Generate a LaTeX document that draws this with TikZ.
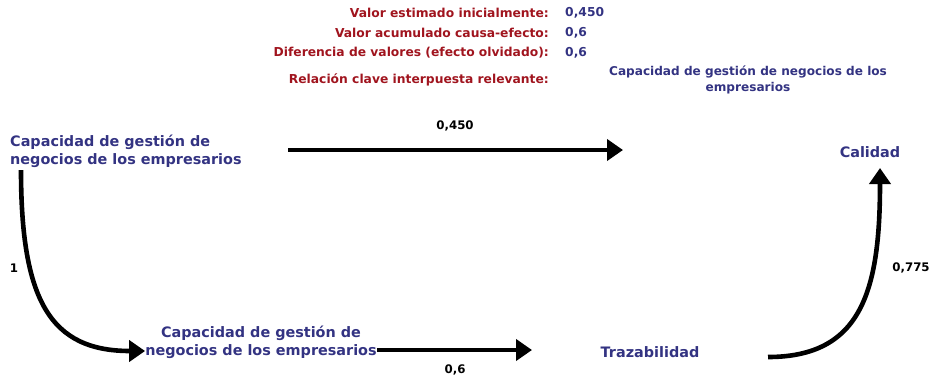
\documentclass[tikz,border=0pt]{standalone}
\usepackage{fontspec}
\setmainfont{DejaVu Sans}
\usetikzlibrary{arrows.meta}
\definecolor{lblred}{RGB}{160,20,30}
\definecolor{nodeblue}{RGB}{51,51,130}
\begin{document}
\begin{tikzpicture}[x=1pt,y=-1pt,
  redlbl/.style={anchor=east,text=lblred,font=\bfseries\fontsize{12.3}{14}\selectfont,inner sep=0pt},
  vallbl/.style={anchor=west,text=nodeblue,font=\bfseries\fontsize{12.3}{14}\selectfont,inner sep=0pt},
  concept/.style={text=nodeblue,font=\bfseries\fontsize{14.4}{18}\selectfont,inner sep=0pt},
  wlbl/.style={text=black,font=\bfseries\fontsize{11.8}{14}\selectfont,inner sep=0pt},
  bigarrow/.style={line width=4.6pt,-{Triangle[length=16pt,width=21pt]}}
]
\useasboundingbox (0,0) rectangle (933,381);
\node[redlbl] (r1) at (549,13) {Valor estimado inicialmente:};
\node[redlbl] (r2) at (549,33) {Valor acumulado causa-efecto:};
\node[redlbl] (r3) at (549,53) {Diferencia de valores (efecto olvidado):};
\node[redlbl] (r4) at (549,80) {Relación clave interpuesta relevante:};
\node[vallbl] (v1) at (565,13) {0,450};
\node[vallbl] (v2) at (565,33) {0,6};
\node[vallbl] (v3) at (565,53) {0,6};
\node[text=nodeblue,font=\bfseries\fontsize{12.1}{16}\selectfont,align=center,inner sep=0pt] (v4) at (748,80) {Capacidad de gestión de negocios de los\\empresarios};

\node[concept,align=left,anchor=west] (cap1) at (10,151) {Capacidad de gestión de\\negocios de los empresarios};
\node[concept] (cal) at (870,152) {Calidad};
\node[concept,align=center] (cap2) at (261,342) {Capacidad de gestión de\\negocios de los empresarios};
\node[concept] (traz) at (650,352) {Trazabilidad};

\coordinate (t1s) at (288,150);
\coordinate (t1e) at (623,150);
\coordinate (c1s) at (21,170);
\coordinate (c2s) at (768,357);
\coordinate (c2e) at (880,168);
\coordinate (b1e) at (532,350);

\draw[bigarrow] (c1s) .. controls (21,300) and (50,351) .. (cap2.west |- 0,351);
\draw[bigarrow] (t1s) -- (t1e);
\draw[bigarrow] (cap2.east |- 0,350) -- (b1e);
\draw[bigarrow] (c2s) .. controls (862,357) and (880,290) .. (c2e);

\node[wlbl] (w1) at (455,126) {0,450};
\node[wlbl] (w2) at (14,268) {1};
\node[wlbl] (w3) at (455,370) {0,6};
\node[wlbl] (w4) at (911,268) {0,775};
\end{tikzpicture}
\end{document}
